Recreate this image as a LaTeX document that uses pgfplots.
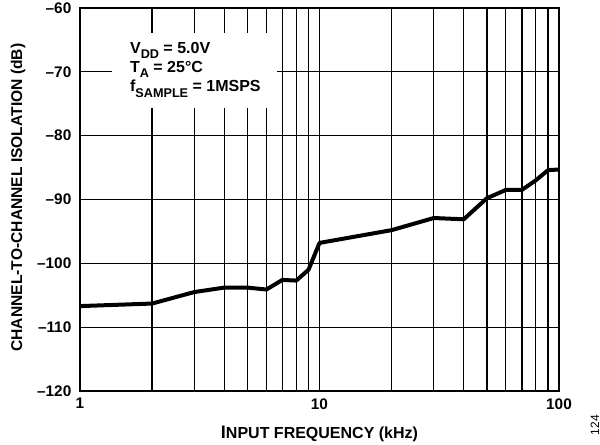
\documentclass[border=0pt]{standalone}
\usepackage{fontspec}
\setmainfont{Liberation Sans}
\usepackage{pgfplots}
\pgfplotsset{compat=1.18}
\newcommand\sub[1]{\raisebox{-0.32em}{\fontsize{9.5}{10}\selectfont #1}}
\begin{document}
\begin{tikzpicture}
\useasboundingbox (-60pt,-39.75pt) rectangle (390pt,293.25pt);
\begin{semilogxaxis}[
  at={(0,0)}, anchor=south west,
  scale only axis, width=359.25pt, height=287.25pt,
  xmin=1, xmax=100, ymin=-120, ymax=-60,
  xtick={1,10,100}, xticklabels={1,10,100},
  ytick={-120,-110,-100,-90,-80,-70,-60},
  yticklabels={–120,–110,–100,–90,–80,–70,–60},
  xmajorgrids, xminorgrids, ymajorgrids,
  grid style={line width=0.9pt, black},
  minor grid style={line width=0.9pt, black},
  tick style={draw=none},
  axis line style={line width=1.6pt},
  ticklabel style={font=\fontsize{11.5}{13}\selectfont\bfseries},
  yticklabel style={xshift=-3pt},
  xticklabel style={yshift=-2pt},
  xlabel={\fontsize{13.5}{14}\selectfont I\fontsize{12}{14}\selectfont NPUT FREQUENCY (kHz)},
  ylabel={CHANNEL-TO-CHANNEL ISOLATION (dB)},
  label style={font=\fontsize{11.7}{13}\selectfont\bfseries},
  xlabel style={at={(axis description cs:0.5,-0.112)}, anchor=center},
  ylabel style={at={(axis description cs:-0.129,0.505)}, anchor=center},
  clip=false,
]
\fill[white] (rel axis cs:0.0668,0.739) rectangle (rel axis cs:0.411,0.935);
\addplot[black, line width=3pt, line join=round] coordinates {
 (1,-106.7) (2,-106.3) (3,-104.5) (4,-103.8) (5,-103.8) (6,-104.1)
 (7,-102.6) (8,-102.7) (9,-101.0) (10,-96.8) (20,-94.8) (30,-92.9)
 (40,-93.1) (50,-89.8) (60,-88.5) (70,-88.5) (80,-87.0) (90,-85.4) (100,-85.3)
};
\node[anchor=west, align=left, inner sep=0pt,
  font=\fontsize{12}{14.5}\selectfont\bfseries]
  at (rel axis cs:0.104,0.839)
  {V\sub{DD} = 5.0V\\T\sub{A} = 25°C\\f\sub{SAMPLE} = 1MSPS};
\node[rotate=90, font=\fontsize{9}{10}\selectfont] at (rel axis cs:1.075,-0.089) {124};
\end{semilogxaxis}
\end{tikzpicture}
\end{document}
